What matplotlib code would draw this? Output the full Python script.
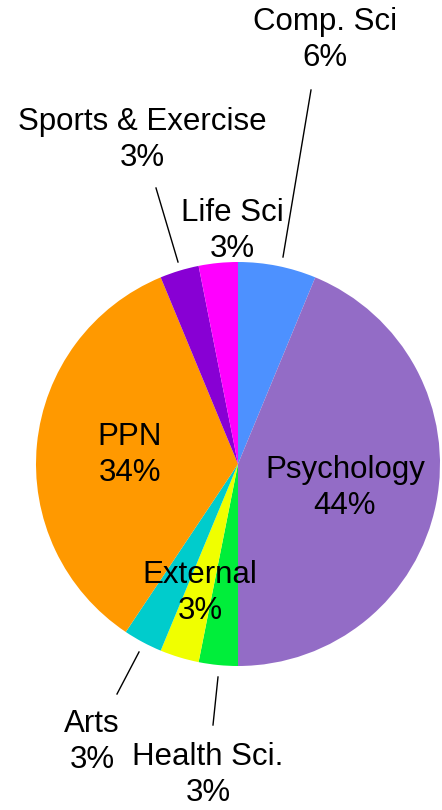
import matplotlib.pyplot as plt

# counts per department (32 in total)
names = ['Comp. Sci', 'Psychology', 'Health Sci.', 'External', 'Arts',
         'PPN', 'Sports & Exercise', 'Life Sci']
counts = [2, 14, 1, 1, 1, 11, 1, 1]
colors = ['#4d91ff', '#936cc6', '#00ee3a', '#f0ff00', '#00cccc',
          '#ff9900', '#8800d4', '#ff00ff']

# label centres in pixels (x, y from top) and leader lines
label_pos = [(325, 40), (345, 488), (208, 775), (200, 593), (92, 742),
             (130, 455), (142, 140), (232, 231)]
leaders = {0: ((311, 90), (283, 257)),
           2: ((218, 677), (213, 725)),
           4: ((139, 652), (117, 694)),
           6: ((156, 188), (178, 262))}

W, H = 442, 810
fig = plt.figure(figsize=(W / 100, H / 100), dpi=100)
ax = fig.add_axes([0, 0, 1, 1])

ax.pie(counts, colors=colors, startangle=90, counterclock=False,
       center=(238, H - 464), radius=202, frame=True,
       wedgeprops=dict(linewidth=0))
ax.set_xlim(0, W)
ax.set_ylim(0, H)
ax.axis('off')

total = sum(counts)
for i, (name, c) in enumerate(zip(names, counts)):
    x, y = label_pos[i]
    ax.text(x, H - y, f'{name}\n{100 * c / total:.0f}%', ha='center',
            va='center', fontsize=22.5, family='Liberation Sans',
            linespacing=1.22)
for i, ((x0, y0), (x1, y1)) in leaders.items():
    ax.plot([x0, x1], [H - y0, H - y1], color='black', lw=1)

fig.savefig('out.png', dpi=100)
